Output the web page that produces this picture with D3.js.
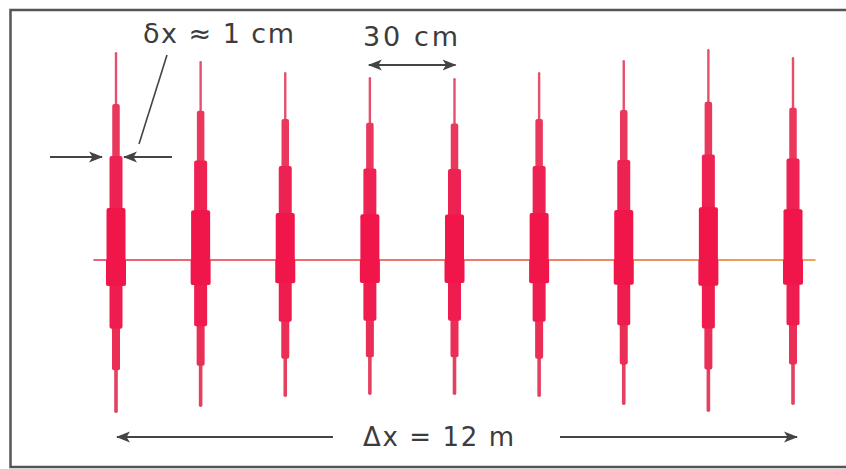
<!DOCTYPE html>
<html>
<head>
<meta charset="utf-8">
<script src="https://cdn.jsdelivr.net/npm/d3@7"></script>
<style>
  html, body { margin: 0; padding: 0; background: #fff; }
  svg { display: block; }
</style>
</head>
<body>
<svg id="chart" width="846" height="469"></svg>
<script>
// Pulse train: position along the beam (cm) and envelope heights above/below the axis (arb. units)
const pulsePos   = [0, 30, 60, 90, 120, 150, 180, 210, 240];
const ampUp      = [1.04, 0.995, 0.94, 0.915, 0.91, 0.94, 1.00, 1.055, 1.015];
const ampDown    = [0.765, 0.735, 0.685, 0.675, 0.675, 0.685, 0.725, 0.76, 0.725];

// Annotation labels
const labelWidth  = "δx ≈ 1 cm";
const labelSpace  = "30 cm";
const labelTrain  = "Δx = 12 m";

const W = 846, H = 469;
const svg = d3.select("#chart");

const x = d3.scaleLinear().domain([0, 240]).range([116, 793]);
const y = d3.scaleLinear().domain([-1, 1]).range([460, 60]);
const y0 = y(0);

// frame
svg.append("path")
  .attr("d", `M${W + 2},10 H10.5 V467 H${W + 2}`)
  .attr("fill", "none")
  .attr("stroke", "#555")
  .attr("stroke-width", 2.5);

// axis line, fading from rose to amber along the train
const defs = svg.append("defs");
const grad = defs.append("linearGradient").attr("id", "axisGrad")
  .attr("x1", "0%").attr("x2", "100%");
grad.append("stop").attr("offset", "0%").attr("stop-color", "#e8506a");
grad.append("stop").attr("offset", "60%").attr("stop-color", "#e8705a");
grad.append("stop").attr("offset", "100%").attr("stop-color", "#e6a048");

svg.append("rect")
  .attr("x", x(-8)).attr("y", y0 - 0.9)
  .attr("width", x(248) - x(-8)).attr("height", 1.8)
  .attr("fill", "url(#axisGrad)");

// soft edge for the densely drawn packets
defs.append("filter").attr("id", "soft")
  .attr("x", "-50%").attr("y", "-5%").attr("width", "200%").attr("height", "110%")
  .append("feGaussianBlur").attr("stdDeviation", 0.5);

// stepped envelope of each packet: fraction of the amplitude reached at each width
const stepsUp   = [{f: 1.00, w: 2.4, c: "#e5506c"}, {f: 0.75, w: 7.5, c: "#e9375c"},
                   {f: 0.50, w: 13, c: "#ed2453"}, {f: 0.25, w: 19, c: "#f0134a"}];
const stepsDown = [{f: 1.00, w: 3.6, c: "#e4405f"}, {f: 0.72, w: 8, c: "#ea2d57"},
                   {f: 0.45, w: 13, c: "#ee1f50"}, {f: 0.17, w: 20, c: "#f0134a"}];

const pulses = pulsePos.map((p, i) => ({pos: p, up: ampUp[i], down: ampDown[i]}));

const g = svg.selectAll("g.pulse").data(pulses).join("g")
  .attr("class", "pulse")
  .attr("filter", "url(#soft)");

g.each(function(d) {
  const sel = d3.select(this);
  const cx = x(d.pos);
  stepsUp.forEach(s => {
    const top = y(d.up * s.f);
    sel.append("rect")
      .attr("x", cx - s.w / 2).attr("y", top)
      .attr("width", s.w).attr("height", y0 - top + 1)
      .attr("rx", Math.min(s.w / 2, 2))
      .attr("fill", s.c);
  });
  stepsDown.forEach(s => {
    const bot = y(-d.down * s.f);
    sel.append("rect")
      .attr("x", cx - s.w / 2).attr("y", y0 - 1)
      .attr("width", s.w).attr("height", bot - y0 + 1)
      .attr("rx", Math.min(s.w / 2, 2))
      .attr("fill", s.c);
  });
});

// arrow heads
const ink = "#444";
defs.append("marker").attr("id", "head")
  .attr("viewBox", "0 0 14 12").attr("refX", 13).attr("refY", 6)
  .attr("markerWidth", 14).attr("markerHeight", 12)
  .attr("markerUnits", "userSpaceOnUse")
  .attr("orient", "auto-start-reverse")
  .append("path").attr("d", "M0,0.5 L14,6 L0,11.5 L3.5,6 Z").attr("fill", ink);

function arrow(x1, y1, x2, y2, both) {
  const l = svg.append("line")
    .attr("x1", x1).attr("y1", y1).attr("x2", x2).attr("y2", y2)
    .attr("stroke", ink).attr("stroke-width", 2)
    .attr("marker-end", "url(#head)");
  if (both) l.attr("marker-start", "url(#head)");
  return l;
}

const font = "'DejaVu Sans', 'Liberation Sans', sans-serif";
function label(txt, x0, x1, yb, size) {
  svg.append("text")
    .attr("x", x0).attr("y", yb)
    .attr("textLength", x1 - x0).attr("lengthAdjust", "spacing")
    .attr("font-family", font).attr("font-size", size)
    .attr("fill", "#3c3c3c")
    .text(txt);
}

// pulse width marker on the first packet
const p0 = x(pulsePos[0]);
arrow(50, 157, p0 - 14, 157);
arrow(172, 157, p0 + 8, 157);
svg.append("line")
  .attr("x1", 167).attr("y1", 55).attr("x2", 139).attr("y2", 144)
  .attr("stroke", ink).attr("stroke-width", 1.6);
label(labelWidth, 143, 294, 43, 27);

// spacing between neighbouring packets
arrow(x(pulsePos[3]) - 1, 65, x(pulsePos[4]) + 1, 65, true);
label(labelSpace, 363, 458, 46, 27);

// overall train length
arrow(333, 437, x(pulsePos[0]) + 1, 437);
arrow(560, 437, x(pulsePos[8]) + 4, 437);
label(labelTrain, 363, 514, 446, 26);
</script>
</body>
</html>
